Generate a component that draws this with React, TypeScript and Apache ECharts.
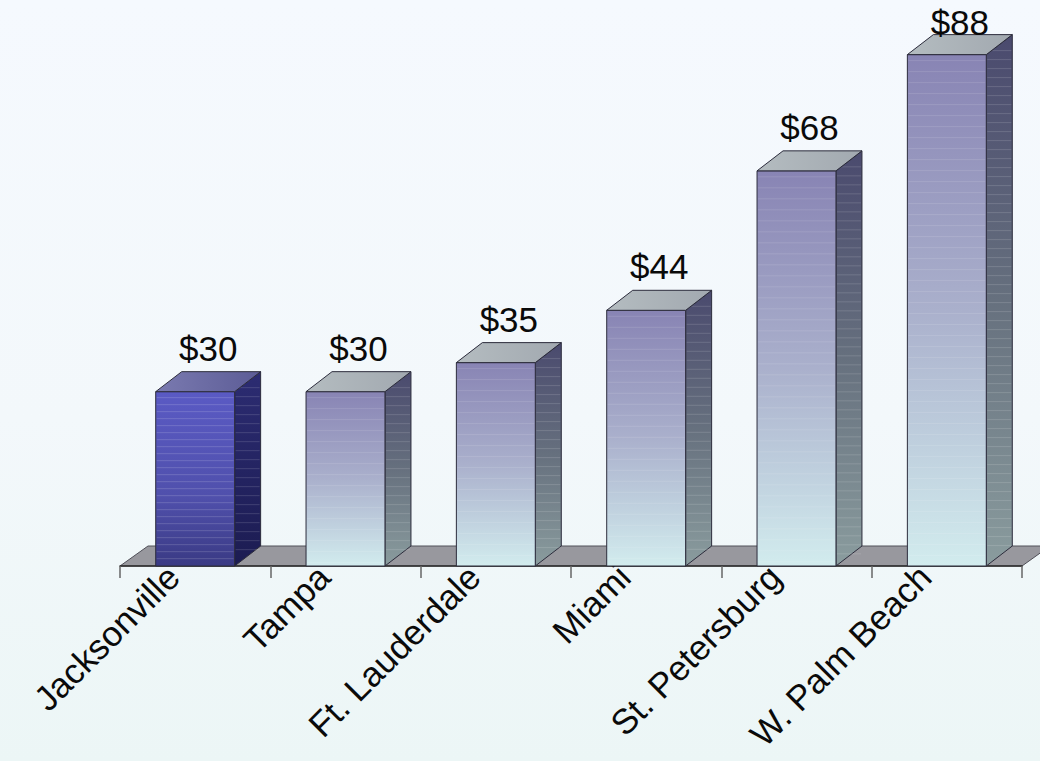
import React, { useEffect, useRef } from "react";
import * as echarts from "echarts";

const categories = ["Jacksonville", "Tampa", "Ft. Lauderdale", "Miami", "St. Petersburg", "W. Palm Beach"];
const values = [30, 30, 35, 44, 68, 88];
const valueLabels = ["$30", "$30", "$35", "$44", "$68", "$88"];

const DX = 26;
const DY = -20;
const FDX = 28;

export default function App() {
  const ref = useRef<HTMLDivElement>(null);
  useEffect(() => {
    const chart = echarts.init(ref.current!, null, { renderer: "svg" });
    const edge = "#2c2c3c";
    const lg = (stops: [number, string][], x2 = 0, y2 = 1) =>
      new echarts.graphic.LinearGradient(0, 0, x2, y2, stops.map(([o, c]) => ({ offset: o, color: c })));

    chart.setOption({
      animation: false,
      grid: { left: 120, right: 18, top: 43, bottom: 195, containLabel: false, outerBoundsMode: "none" },
      xAxis: {
        type: "category",
        data: categories,
        z: 5,
        axisLine: { show: true, lineStyle: { color: "#2a2a2a", width: 1.5 } },
        axisTick: { show: true, length: 12, lineStyle: { color: "#666", width: 1.5 } },
        axisLabel: {
          rotate: 45,
          interval: 0,
          fontSize: 35,
          color: "#0a0a0a",
          fontFamily: "Liberation Sans, Arial, sans-serif",
          margin: -17,
          padding: [0, 31, 0, 0],
        },
      },
      yAxis: { type: "value", min: 0, max: 90, show: false, splitLine: { show: false } },
      series: [
        {
          type: "custom",
          z: 1,
          silent: true,
          data: [[0, 0]],
          renderItem: (params: any, api: any) => {
            const cs = params.coordSys;
            const y0 = api.coord([0, 0])[1];
            const x0 = cs.x;
            const x1 = cs.x + cs.width;
            return {
              type: "polygon",
              shape: { points: [[x0, y0], [x1, y0], [x1 + FDX, y0 + DY], [x0 + FDX, y0 + DY]] },
              style: { fill: "#98989e", stroke: "#505058", lineWidth: 1 },
            };
          },
        },
        {
          type: "custom",
          z: 6,
          data: values.map((v, i) => [i, v]),
          encode: { x: 0, y: 1 },
          renderItem: (params: any, api: any) => {
            const i = api.value(0);
            const v = api.value(1);
            const base = api.coord([i, 0]);
            const topP = api.coord([i, v]);
            const band = api.size([1, 0])[0];
            const w = band * 0.525;
            const l = base[0] - w / 2;
            const r = l + w;
            const y0 = base[1];
            const y1 = topP[1];
            const first = i === 0;
            const front = first
              ? lg([[0, "#5a5ac4"], [0.6, "#5050ac"], [1, "#3a3a84"]])
              : lg([[0, "#8884b4"], [0.5, "#aab0cc"], [1, "#d2ecee"]]);
            const side = first
              ? lg([[0, "#2c2c72"], [1, "#1c1c52"]])
              : lg([[0, "#4a4a6e"], [0.5, "#66707e"], [1, "#8a9c9e"]]);
            const topF = first
              ? lg([[0, "#7a7ab0"], [1, "#5c5c96"]], 1, 0)
              : lg([[0, "#b4bcc0"], [1, "#a2a9b0"]], 1, 0);
            const labelBottom = Math.max(y1 + DY - 6, 40);

            // faint horizontal texture lines (decoration only)
            const stripes: any[] = [];
            const frontStep = first ? 7 : 11;
            for (let yy = y1 + 6; yy < y0 - 2; yy += frontStep) {
              stripes.push({
                type: "line",
                shape: { x1: l + 1, y1: yy, x2: r - 1, y2: yy },
                style: { stroke: "#ffffff", opacity: first ? 0.16 : 0.12, lineWidth: 1 },
              });
            }
            for (let yy = y1 + 6; yy < y0 - 2; yy += 9) {
              stripes.push({
                type: "line",
                shape: { x1: r + 1, y1: yy + DY * 0.5, x2: r + DX - 1, y2: yy + DY * 0.5 },
                style: { stroke: "#ffffff", opacity: 0.14, lineWidth: 1 },
              });
            }

            return {
              type: "group",
              children: [
                {
                  type: "polygon",
                  shape: { points: [[r, y1], [r + DX, y1 + DY], [r + DX, y0 + DY], [r, y0]] },
                  style: { fill: side, stroke: edge, lineWidth: 1 },
                },
                {
                  type: "rect",
                  shape: { x: l, y: y1, width: w, height: y0 - y1 },
                  style: { fill: front, stroke: edge, lineWidth: 1 },
                },
                ...stripes,
                {
                  type: "polygon",
                  shape: { points: [[l, y1], [l + DX, y1 + DY], [r + DX, y1 + DY], [r, y1]] },
                  style: { fill: topF, stroke: edge, lineWidth: 1 },
                },
                {
                  type: "text",
                  x: (l + r + DX) / 2,
                  y: labelBottom,
                  style: {
                    text: valueLabels[i],
                    fill: "#0a0a0a",
                    fontSize: 35,
                    fontFamily: "Liberation Sans, Arial, sans-serif",
                    textAlign: "center",
                    textVerticalAlign: "bottom",
                  },
                },
              ],
            };
          },
        },
      ],
    });
    return () => chart.dispose();
  }, []);

  return (
    <div
      style={{
        position: "fixed",
        left: 0,
        top: 0,
        width: 1040,
        height: 761,
        background: "linear-gradient(180deg, #f5f9fe 0%, #f3f8fb 55%, #ecf6f6 100%)",
      }}
    >
      <div ref={ref} style={{ width: 1040, height: 761 }} />
    </div>
  );
}
